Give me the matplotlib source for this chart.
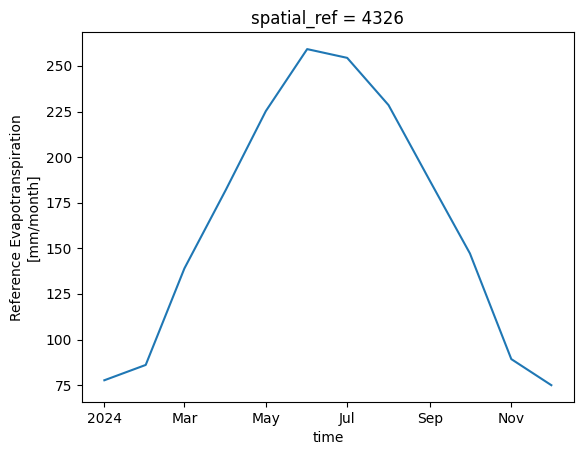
import numpy as np
import matplotlib
matplotlib.use("Agg")
import matplotlib.pyplot as plt
import matplotlib.dates as mdates

# datas mensais (inicio do mes) e valores de ET de referencia
meses = np.array(["2024-01-01", "2024-02-01", "2024-03-01", "2024-04-01",
                  "2024-05-01", "2024-06-01", "2024-07-01", "2024-08-01",
                  "2024-09-01", "2024-10-01", "2024-11-01", "2024-12-01"],
                 dtype="datetime64[D]")
et_ref = [77.7, 86.1, 139.0, 182.0, 225.2, 259.2, 254.4, 228.5, 187.0, 147.2, 89.3, 75.0]

fig = plt.figure(figsize=(5.87, 4.55), dpi=100)
ax = fig.add_axes([0.1397, 0.1165, 0.8376, 0.8125])

ax.plot(meses, et_ref, color="#1f77b4")

loc = mdates.AutoDateLocator()
ax.xaxis.set_major_locator(loc)
ax.xaxis.set_major_formatter(mdates.ConciseDateFormatter(loc))

ax.set_title("spatial_ref = 4326")
ax.set_xlabel("time")
ax.set_ylabel("Reference Evapotranspiration\n[mm/month]")

plt.savefig("out.png", dpi=100)
